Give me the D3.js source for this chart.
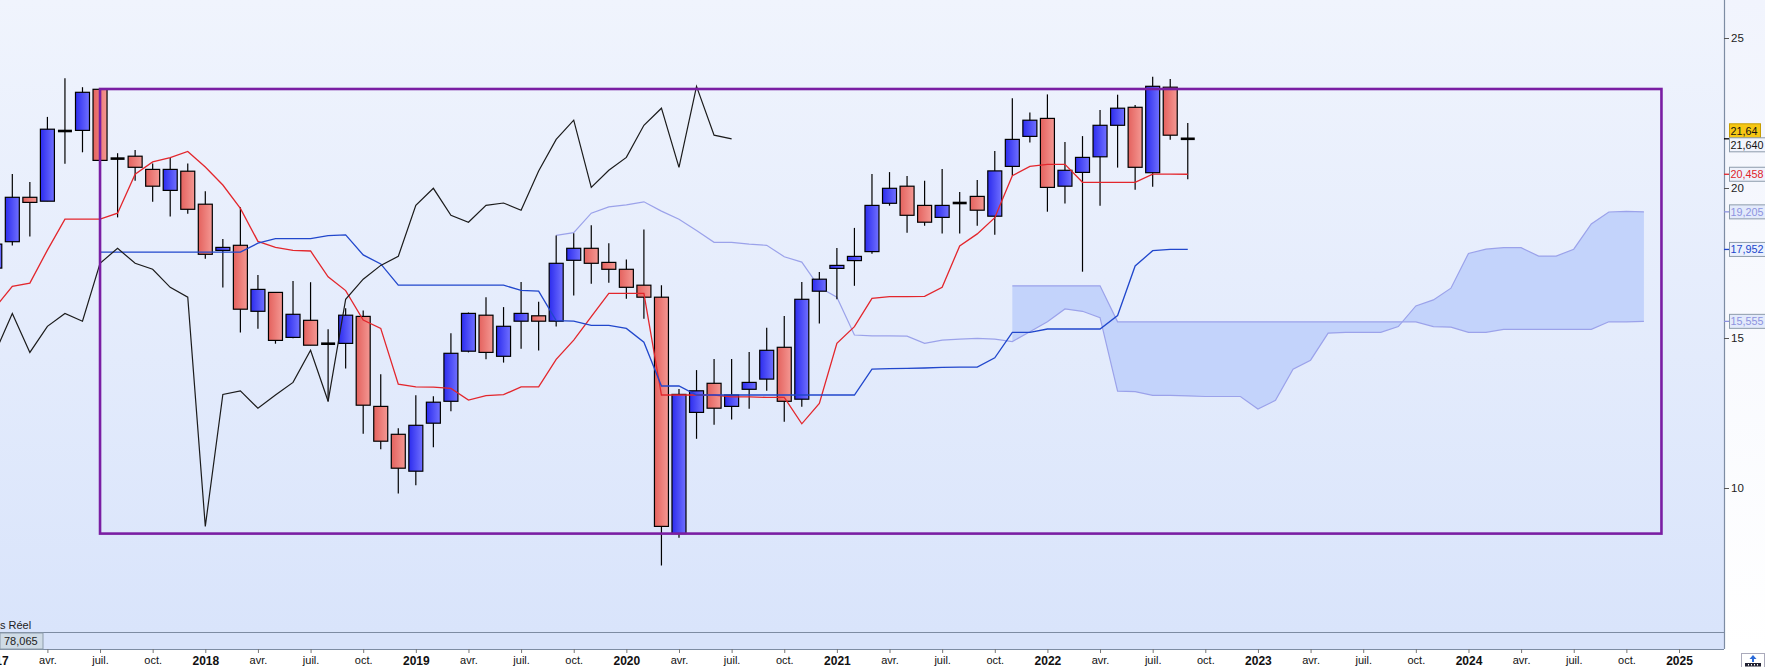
<!DOCTYPE html>
<html><head><meta charset="utf-8">
<script src="https://cdn.jsdelivr.net/npm/d3@7"></script>
<style>html,body{margin:0;padding:0;background:#fff;overflow:hidden}svg{display:block}</style>
</head><body><svg id="c" width="1765" height="667"></svg>
<script>
// ---- DATA (monthly, index 0 = Jan 2017) ----
const firstMonth = 0;
const opens  = [17.33,18.21,19.69,19.56,21.92,21.92,23.29,21.00,21.06,20.62,19.92,20.56,
                19.46,17.92,18.09,15.89,16.52,15.02,15.59,14.82,14.82,15.72,12.72,11.79,
                10.56,12.16,12.89,14.56,15.76,14.39,15.56,15.74,15.56,17.59,17.99,17.52,
                17.29,16.76,16.36,8.48,12.52,13.49,12.72,13.29,13.63,14.69,12.96,16.56,
                17.32,17.58,17.88,19.49,20.06,19.42,19.02,19.52,19.72,19.06,20.72,21.72,
                22.32,20.06,20.52,21.04,22.09,22.69,20.51,23.36,21.66];
const highs  = [18.40,20.47,20.20,22.37,23.66,23.36,23.30,21.16,21.27,20.82,21.00,20.82,
                19.89,18.30,19.36,17.10,16.52,16.90,16.86,15.29,15.99,15.92,13.79,11.99,
                13.09,13.06,15.16,15.85,16.36,16.03,16.87,16.21,18.42,18.49,18.76,18.16,
                17.62,18.62,16.76,13.30,13.93,14.30,14.30,14.53,15.34,15.73,16.87,17.20,
                18.00,18.67,20.47,20.53,20.40,20.24,20.63,19.87,20.27,21.23,22.99,22.52,
                23.12,21.53,21.73,22.60,23.11,22.77,23.71,23.63,22.17];
const lows   = [17.00,18.08,18.38,19.56,20.81,21.19,20.92,19.02,20.24,19.54,19.05,19.14,
                17.64,16.68,15.18,15.31,14.81,14.99,14.76,12.88,13.98,11.81,11.29,9.82,
                10.09,11.36,12.56,14.52,14.29,14.18,14.64,14.58,15.38,16.42,16.81,16.84,
                16.31,15.64,7.42,8.34,11.64,12.11,12.28,12.64,13.24,12.21,12.71,15.48,
                16.29,16.74,17.81,19.41,18.51,18.74,18.48,18.48,18.74,18.44,20.42,21.52,
                19.21,19.48,17.21,19.41,20.68,19.94,20.04,21.61,20.29];
const closes = [18.13,19.69,19.52,21.96,21.90,23.19,20.92,20.98,20.69,20.06,20.62,19.29,
                17.79,18.02,15.96,16.62,14.92,15.79,14.76,14.81,15.76,12.76,11.56,10.66,
                12.09,12.86,14.49,15.82,14.52,15.39,15.82,15.56,17.49,17.99,17.49,17.29,
                16.69,16.36,8.72,13.12,13.24,12.66,13.10,13.52,14.59,12.89,16.29,16.96,
                17.42,17.72,19.42,19.99,19.09,18.86,19.42,19.50,19.26,20.57,21.62,22.26,
                20.02,20.59,21.02,22.09,22.66,20.69,23.39,21.76,21.64];
// Tenkan-sen (index 0 = Jan 2017)
const tenkan = [16.00,16.72,16.83,17.93,18.96,18.96,18.96,19.16,20.46,20.87,21.01,21.22,
                20.70,20.10,19.32,18.22,18.02,17.92,17.90,17.04,16.58,15.60,15.32,13.46,
                13.37,13.36,13.32,12.93,13.08,13.11,13.37,13.37,14.29,14.93,15.71,16.49,
                16.49,16.49,13.10,13.10,13.10,13.10,13.04,13.04,13.02,13.02,12.14,12.82,
                14.82,15.38,16.32,16.38,16.38,16.39,16.69,18.07,18.47,19.01,20.41,20.72,
                20.79,20.79,20.19,20.19,20.19,20.19,20.46,20.46,20.458];
// Kijun-sen (starts Jul 2017, index 6)
const kijunStart = 6;
const kijun  = [17.86,17.86,17.86,17.86,17.86,17.86,17.86,17.86,17.86,18.16,18.31,18.31,
                18.31,18.41,18.44,17.77,17.47,16.76,16.76,16.76,16.76,16.76,16.76,16.76,
                16.59,16.56,15.58,15.56,15.42,15.42,15.32,14.86,13.40,13.40,13.10,13.10,
                13.10,13.10,13.10,13.10,13.10,13.10,13.10,13.10,13.96,13.98,13.99,14.00,
                14.02,14.03,14.03,14.34,15.19,15.19,15.30,15.30,15.30,15.30,15.75,17.40,
                17.91,17.952,17.952];
// Senkou span A (starts Sep 2019, index 32)
const spanAStart = 32;
const spanA  = [18.42,18.51,19.16,19.37,19.44,19.54,19.23,18.96,18.58,18.19,18.19,18.13,
                18.09,17.71,17.53,16.69,16.36,15.10,15.07,15.07,15.06,14.82,14.93,14.96,
                14.99,14.96,14.88,15.21,15.54,15.97,15.89,15.68,13.23,13.21,13.09,13.09,
                13.07,13.05,13.05,13.05,12.63,12.92,13.96,14.26,15.16,15.19,15.19,15.19,
                15.38,16.07,16.27,16.66,17.82,17.96,18.01,18.01,17.73,17.73,17.96,18.80,
                19.20,19.22,19.205];
// Senkou span B (starts Nov 2021, index 58)
const spanBStart = 58;
const spanB  = [16.74,16.74,16.74,16.74,16.74,16.74,15.54,15.54,15.54,15.54,15.54,15.54,
                15.54,15.54,15.54,15.54,15.54,15.54,15.54,15.54,15.54,15.54,15.54,15.54,
                15.38,15.36,15.19,15.19,15.29,15.29,15.29,15.29,15.29,15.29,15.54,15.54,
                15.555];
const chikouShift = 26;
// Rectangle (Jul 2017 -> Dec 2024)
const boxMonths = [6, 95];
const boxValues = [8.48, 23.30];
// Axis labels
const yTicks = [10, 15, 20, 25];
const xTickMonths = d3.range(0, 97, 3);
const xTickLabels = ["2017","avr.","juil.","oct.","2018","avr.","juil.","oct.",
                     "2019","avr.","juil.","oct.","2020","avr.","juil.","oct.",
                     "2021","avr.","juil.","oct.","2022","avr.","juil.","oct.",
                     "2023","avr.","juil.","oct.","2024","avr.","juil.","oct.","2025"];
const indicatorName = "s Réel";
const indicatorValue = "78,065";

// ---- DRAWING ----
const fr = d3.formatLocale({decimal: ",", thousands: " ", grouping: [3], currency: ["", "€"]});
const svg = d3.select("#c");
const plotRight = 1724, plotBottom = 632, panelBottom = 649;
const x = d3.scaleLinear().domain([12, 96]).range([205.3, 1679]);
const y = d3.scaleLinear().domain([10, 25]).range([488, 38]);

const defs = svg.append("defs");
const bg = defs.append("linearGradient").attr("id","bg").attr("x1",0).attr("y1",0).attr("x2",0).attr("y2",1);
bg.append("stop").attr("offset","0%").attr("stop-color","#f0f4fd");
bg.append("stop").attr("offset","100%").attr("stop-color","#d9e4fb");
const bg2 = defs.append("linearGradient").attr("id","bg2").attr("x1",0).attr("y1",0).attr("x2",0).attr("y2",1);
bg2.append("stop").attr("offset","0%").attr("stop-color","#f1f4fd");
bg2.append("stop").attr("offset","100%").attr("stop-color","#ffffff");
const gr = defs.append("linearGradient").attr("id","gred").attr("x1",0).attr("y1",0).attr("x2",1).attr("y2",0);
gr.append("stop").attr("offset","0%").attr("stop-color","#e4625e");
gr.append("stop").attr("offset","100%").attr("stop-color","#f49893");
const gb = defs.append("linearGradient").attr("id","gblue").attr("x1",0).attr("y1",0).attr("x2",1).attr("y2",0);
gb.append("stop").attr("offset","0%").attr("stop-color","#2c2cee");
gb.append("stop").attr("offset","100%").attr("stop-color","#7070ff");
defs.append("clipPath").attr("id","clip").append("rect")
  .attr("x",0).attr("y",0).attr("width",plotRight).attr("height",plotBottom);

// backgrounds
svg.append("rect").attr("x",0).attr("y",0).attr("width",1765).attr("height",667).attr("fill","#ffffff");
svg.append("rect").attr("x",0).attr("y",0).attr("width",plotRight).attr("height",plotBottom).attr("fill","url(#bg)");
svg.append("rect").attr("x",plotRight).attr("y",0).attr("width",1765-plotRight).attr("height",panelBottom).attr("fill","url(#bg2)");

const g = svg.append("g").attr("clip-path","url(#clip)");

// series helpers
const ser = (arr, start) => arr.map((v,i)=>({m:start+i, v}));
const lineGen = d3.line().x(d=>x(d.m)).y(d=>y(d.v));

// cloud
const cloud = spanB.map((b,i)=>({m:spanBStart+i, a:spanA[spanBStart-spanAStart+i], b}));
g.append("path").datum(cloud)
  .attr("d", d3.area().x(d=>x(d.m)).y0(d=>y(d.a)).y1(d=>y(d.b)))
  .attr("fill","#c3d3fb");
g.append("path").datum(ser(spanA, spanAStart)).attr("d", lineGen)
  .attr("fill","none").attr("stroke","#9ba2ea").attr("stroke-width",1.2);
g.append("path").datum(ser(spanB, spanBStart)).attr("d", lineGen)
  .attr("fill","none").attr("stroke","#9ba2ea").attr("stroke-width",1.2);

// candles
const candles = opens.map((o,i)=>({m:firstMonth+i, o, h:highs[i], l:lows[i], c:closes[i]}));
const cw = 14;
const cg = g.append("g");
cg.selectAll("line.w").data(candles).join("line").attr("class","w")
  .attr("x1",d=>x(d.m)).attr("x2",d=>x(d.m))
  .attr("y1",d=>y(d.h)).attr("y2",d=>y(d.l))
  .attr("stroke","#000").attr("stroke-width",1.2);
const isDoji = d => Math.abs(d.o - d.c) < 0.05;
cg.selectAll("rect.b").data(candles.filter(d=>!isDoji(d))).join("rect").attr("class","b")
  .attr("x",d=>x(d.m)-cw/2).attr("width",cw)
  .attr("y",d=>y(Math.max(d.o,d.c)))
  .attr("height",d=>Math.max(1, Math.abs(y(d.o)-y(d.c))))
  .attr("fill",d=>d.c>=d.o ? "url(#gblue)" : "url(#gred)")
  .attr("stroke","#000").attr("stroke-width",1.2);
cg.selectAll("line.d").data(candles.filter(isDoji)).join("line").attr("class","d")
  .attr("x1",d=>x(d.m)-cw/2).attr("x2",d=>x(d.m)+cw/2)
  .attr("y1",d=>y(d.c)).attr("y2",d=>y(d.c))
  .attr("stroke","#000").attr("stroke-width",2.6);

// lines
g.append("path").datum(ser(tenkan, firstMonth)).attr("d", lineGen)
  .attr("fill","none").attr("stroke","#e3262c").attr("stroke-width",1.3);
g.append("path").datum(ser(kijun, kijunStart)).attr("d", lineGen)
  .attr("fill","none").attr("stroke","#2147cc").attr("stroke-width",1.3);
const chikou = closes.slice(chikouShift).map((v,i)=>({m:firstMonth+i, v}));
g.append("path").datum(chikou).attr("d", lineGen)
  .attr("fill","none").attr("stroke","#1b1b1b").attr("stroke-width",1.2);

// rectangle
g.append("rect")
  .attr("x", x(boxMonths[0])).attr("y", y(boxValues[1]))
  .attr("width", x(boxMonths[1]) - x(boxMonths[0]))
  .attr("height", y(boxValues[0]) - y(boxValues[1]))
  .attr("fill","none").attr("stroke","#7a1ea3").attr("stroke-width",2.6);

// indicator label
svg.append("text").attr("x",0).attr("y",629).text(indicatorName)
  .attr("font-family","Liberation Sans, Arial, sans-serif").attr("font-size",11).attr("fill","#222");

// bottom indicator panel
svg.append("rect").attr("x",0).attr("y",plotBottom).attr("width",plotRight).attr("height",panelBottom-plotBottom)
  .attr("fill","#d8e3fb");
svg.append("line").attr("x1",0).attr("x2",plotRight).attr("y1",plotBottom+0.5).attr("y2",plotBottom+0.5)
  .attr("stroke","#7d8ca3").attr("stroke-width",1.2);
svg.append("line").attr("x1",0).attr("x2",plotRight).attr("y1",panelBottom+0.5).attr("y2",panelBottom+0.5)
  .attr("stroke","#7d8ca3").attr("stroke-width",1.2);
svg.append("rect").attr("x",0).attr("y",plotBottom+1).attr("width",43).attr("height",panelBottom-plotBottom-1)
  .attr("fill","#cfdbe6").attr("stroke","#8d9cab").attr("stroke-width",1);
svg.append("text").attr("x",4).attr("y",645).text(indicatorValue)
  .attr("font-family","Liberation Sans, Arial, sans-serif").attr("font-size",11).attr("fill","#222");

// y axis
svg.append("line").attr("x1",plotRight+0.5).attr("x2",plotRight+0.5).attr("y1",0).attr("y2",panelBottom)
  .attr("stroke","#7d8ca3").attr("stroke-width",1.2);
const ya = svg.append("g").attr("transform",`translate(${plotRight},0)`)
  .call(d3.axisRight(y).tickValues(yTicks).tickSize(5).tickPadding(2).tickFormat(d3.format("d")));
ya.select(".domain").remove();
ya.selectAll("line").attr("stroke","#555");
ya.selectAll("text").attr("font-family","Liberation Sans, Arial, sans-serif").attr("font-size",11.5).attr("fill","#222");

// price labels
const lastClose = closes[closes.length-1];
const priceLabels = [
  {v:lastClose, t:fr.format(".2f")(lastClose), dy:-8, fill:"#f6c714", stroke:"#c79e00", color:"#111", tick:"#000", w:31},
  {v:lastClose, t:fr.format(".3f")(lastClose), dy:6, fill:"#f1f4fd", stroke:"#8d9cab", color:"#111", tick:null, w:40},
  {v:tenkan[tenkan.length-1], t:fr.format(".3f")(tenkan[tenkan.length-1]), dy:0, fill:"#eef2fc", stroke:"#8d9cab", color:"#e0242a", tick:"#e0242a", w:40},
  {v:spanA[spanA.length-1], t:fr.format(".3f")(spanA[spanA.length-1]), dy:0, fill:"#e3eafb", stroke:"#8d9cab", color:"#8d93e0", tick:"#8d93e0", w:40},
  {v:kijun[kijun.length-1], t:fr.format(".3f")(kijun[kijun.length-1]), dy:0, fill:"#eaf0fd", stroke:"#8d9cab", color:"#2046cc", tick:"#2046cc", w:40},
  {v:spanB[spanB.length-1], t:fr.format(".3f")(spanB[spanB.length-1]), dy:0, fill:"#e3eafb", stroke:"#8d9cab", color:"#8d93e0", tick:"#8d93e0", w:40}
];
const pl = svg.append("g");
priceLabels.forEach(p=>{
  const cy = y(p.v) + p.dy;
  if (p.tick) pl.append("line").attr("x1",plotRight).attr("x2",plotRight+5).attr("y1",y(p.v)).attr("y2",y(p.v))
      .attr("stroke",p.tick).attr("stroke-width",1.3);
  pl.append("rect").attr("x",plotRight+5.5).attr("y",cy-7).attr("width",p.w).attr("height",14)
    .attr("fill",p.fill).attr("stroke",p.stroke).attr("stroke-width",1);
  pl.append("text").attr("x",plotRight+6.5).attr("y",cy+4).text(p.t)
    .attr("font-family","Liberation Sans, Arial, sans-serif").attr("font-size",10.8)
    .attr("textLength", p.t.length > 5 ? 33 : null).attr("lengthAdjust","spacingAndGlyphs")
    .attr("fill",p.color);
});

// x axis
const xa = svg.append("g").attr("transform",`translate(0,${panelBottom})`)
  .call(d3.axisBottom(x).tickValues(xTickMonths).tickSize(4).tickPadding(3)
        .tickFormat((d,i)=>xTickLabels[i]));
xa.select(".domain").remove();
xa.selectAll("line").attr("stroke","#777");
xa.selectAll("text").attr("font-family","Liberation Sans, Arial, sans-serif")
  .attr("font-size",d=>d%12===0?12:11)
  .attr("font-weight",d=>d%12===0?"bold":"normal")
  .attr("fill","#111");

// small corner icon
const ic = svg.append("g").attr("transform","translate(1741,653)");
ic.append("rect").attr("x",0.5).attr("y",0.5).attr("width",23).attr("height",14).attr("fill","#fff").attr("stroke","#aab").attr("stroke-width",1);
ic.append("path").attr("d","M12 2 L15.5 6 L13 6 L13 9 L11 9 L11 6 L8.5 6 Z").attr("fill","#2a6ad8");
ic.append("rect").attr("x",4).attr("y",10).attr("width",16).attr("height",3.5).attr("fill","#223");
[7,10,13,16].forEach(xx=>ic.append("rect").attr("x",xx).attr("y",11).attr("width",1).attr("height",1.5).attr("fill","#fff"));
</script></body></html>
